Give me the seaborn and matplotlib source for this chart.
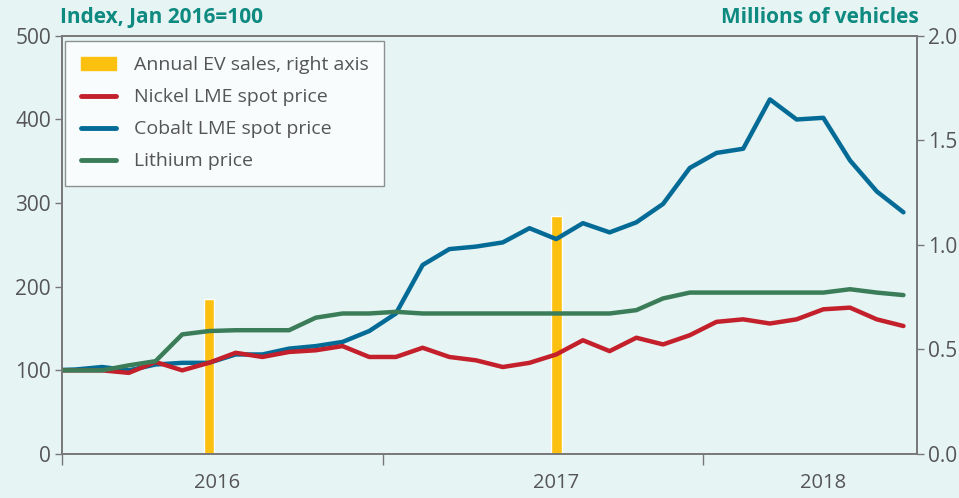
import numpy as np
import pandas as pd
import matplotlib
matplotlib.use("Agg")
import matplotlib.pyplot as plt
from matplotlib.patches import Patch
from matplotlib.lines import Line2D
import seaborn as sns

# monthly index values, Dec 2015 .. Aug 2018 (Jan 2016 = 100)
nickel = [100, 100, 100, 97, 110, 100, 109, 121, 116, 122, 124, 129, 116, 116, 127, 116, 112,
          104, 109, 119, 136, 123, 139, 131, 142, 158, 161, 156, 161, 173, 175, 161, 153]
cobalt = [100, 101, 104, 100, 107, 109, 109, 119, 119, 126, 129, 134, 147, 168, 226, 245, 248,
          253, 270, 257, 276, 265, 277, 299, 342, 360, 365, 424, 400, 402, 351, 314, 289]
lithium = [100, 100, 100, 106, 111, 143, 147, 148, 148, 148, 163, 168, 168, 170, 168, 168, 168,
           168, 168, 168, 168, 168, 172, 186, 193, 193, 193, 193, 193, 193, 197, 193, 190]

# annual EV sales (millions), drawn mid-year
ev_years = ["2016", "2017"]
ev_sales = [0.74, 1.14]
ev_month = [5.5, 18.5]

year_labels = ["2016", "2017", "2018"]
year_label_pos = [5.8, 18.5, 28.5]

months = np.arange(-1, len(nickel) - 1) + 0.5
df = pd.DataFrame({"month": months, "Nickel LME spot price": nickel,
                   "Cobalt LME spot price": cobalt, "Lithium price": lithium})
long = df.melt(id_vars="month", var_name="series", value_name="value")

colors = {"Cobalt LME spot price": "#046b96",
          "Nickel LME spot price": "#c3202b",
          "Lithium price": "#3b7d58"}
ev_color = "#fcc010"
teal = "#0e8a80"
grey = "#555555"

sns.set_style("ticks")
plt.rcParams["font.family"] = ["Open Sans", "DejaVu Sans"]

fig = plt.figure(figsize=(9.59, 4.98), dpi=100, facecolor="#e6f4f4")
ax = fig.add_axes([0.0647, 0.0884, 0.8913, 0.8396])
ax2 = ax.twinx()

# bars on right axis, kept behind lines
ax2.bar(ev_month, ev_sales, width=0.4, color=ev_color, zorder=1)
ax2.set_ylim(0, 2.0)
ax2.set_yticks([0, 0.5, 1.0, 1.5, 2.0])
ax2.set_yticklabels(["0.0", "0.5", "1.0", "1.5", "2.0"])
ax2.set_facecolor("white")

ax.set_zorder(ax2.get_zorder() + 1)
ax.patch.set_visible(False)

for name in ["Cobalt LME spot price", "Nickel LME spot price", "Lithium price"]:
    sns.lineplot(data=long[long.series == name], x="month", y="value", ax=ax,
                 color=colors[name], linewidth=3.2, legend=False)

ax.set_xlim(0, 32)
ax.set_ylim(0, 500)
ax.set_yticks([0, 100, 200, 300, 400, 500])
ax.set_xticks([0, 12, 24])
ax.set_xticklabels([])
ax.set_xticks(year_label_pos, minor=True)
ax.set_xticklabels(year_labels, minor=True)
ax.tick_params(axis="x", which="major", length=8, width=1, color="#777777")
ax.tick_params(axis="x", which="minor", length=0, pad=14, labelsize=14.5, labelcolor=grey)
ax.tick_params(axis="y", length=5, width=1, color="#777777", labelsize=15, labelcolor=grey, pad=3)
ax2.tick_params(axis="y", length=5, width=1, color="#777777", labelsize=15, labelcolor=grey, pad=3)
ax.set_xlabel("")
ax.set_ylabel("")

for a in (ax, ax2):
    for s in a.spines.values():
        s.set_visible(True)
        s.set_color("#777777")
        s.set_linewidth(1.2)

handles = [Patch(color=ev_color),
           Line2D([], [], color=colors["Nickel LME spot price"], lw=3.5, solid_capstyle="round"),
           Line2D([], [], color=colors["Cobalt LME spot price"], lw=3.5, solid_capstyle="round"),
           Line2D([], [], color=colors["Lithium price"], lw=3.5, solid_capstyle="round")]
labels = ["Annual EV sales, right axis", "Nickel LME spot price",
          "Cobalt LME spot price", "Lithium price"]
leg = ax.legend(handles, labels, loc="upper left", bbox_to_anchor=(0.0035, 0.988),
                borderaxespad=0, frameon=True, fancybox=False, fontsize=14,
                handlelength=1.8, handletextpad=0.95, borderpad=0.8,
                labelspacing=0.72, labelcolor=grey)
leg.get_frame().set_edgecolor("#777777")
leg.get_frame().set_linewidth(1.0)

fig.text(0.0625, 0.965, "Index, Jan 2016=100", color=teal, fontsize=15,
         fontweight="bold", ha="left", va="center")
fig.text(0.958, 0.965, "Millions of vehicles", color=teal, fontsize=15,
         fontweight="bold", ha="right", va="center")

fig.savefig("out.png", dpi=100, facecolor=fig.get_facecolor())
